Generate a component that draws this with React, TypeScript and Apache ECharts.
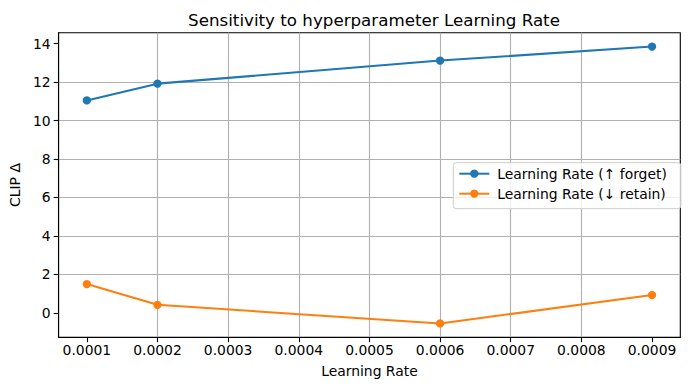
import React, { useEffect, useRef } from "react";
import * as echarts from "echarts";

const learningRates = [0.0001, 0.0002, 0.0006, 0.0009];
const forgetValues = [11.05, 11.92, 13.12, 13.85];
const retainValues = [1.5, 0.42, -0.55, 0.93];
const xTicks = [0.0001, 0.0002, 0.0003, 0.0004, 0.0005, 0.0006, 0.0007, 0.0008, 0.0009];
const yTicks = [0, 2, 4, 6, 8, 10, 12, 14];
const seriesNames = ["Learning Rate (↑ forget)", "Learning Rate (↓ retain)"];

const FONT = "DejaVu Sans";

export default function App() {
  const ref = useRef<HTMLDivElement>(null);
  useEffect(() => {
    if (!ref.current) return;
    const chart = echarts.init(ref.current, undefined, { renderer: "svg" });
    const xMinD = Math.min(...learningRates);
    const xMaxD = Math.max(...learningRates);
    const xPad = (xMaxD - xMinD) * 0.05;
    const allY = [...forgetValues, ...retainValues];
    const yMinD = Math.min(...allY);
    const yMaxD = Math.max(...allY);
    const yPad = (yMaxD - yMinD) * 0.05;

    const axisCommon = {
      axisLine: { show: true, onZero: false, lineStyle: { color: "#000", width: 1.1 } },
      axisTick: { show: true, length: 4.9, lineStyle: { color: "#000", width: 1.1 } },
      splitLine: { show: true, showMinLine: false, showMaxLine: false, lineStyle: { color: "#b0b0b0", width: 1.1 } },
    };

    chart.setOption({
      animation: false,
      backgroundColor: "#fff",
      title: {
        text: "Sensitivity to hyperparameter Learning Rate",
        left: 369,
        top: 6,
        textAlign: "center",
        textStyle: { fontFamily: FONT, fontSize: 16.7, fontWeight: "normal", color: "#000" },
      },
      grid: {
        left: 57.7,
        top: 32.7,
        right: 9.7,
        bottom: 52.7,
        show: true,
        borderColor: "#000",
        borderWidth: 1.1,
        backgroundColor: "transparent",
      },
      legend: {
        orient: "vertical",
        left: 453.3,
        top: 162.7,
        itemWidth: 30,
        itemHeight: 10.4,
        itemGap: 4,
        padding: [3, 14, 7, 5],
        backgroundColor: "rgba(255,255,255,0.8)",
        borderColor: "#cccccc",
        borderWidth: 1,
        borderRadius: 3,
        textStyle: { fontFamily: FONT, fontSize: 13.9, lineHeight: 16, color: "#000", padding: [0, 0, 0, 3] },
        data: seriesNames,
      },
      xAxis: {
        type: "value",
        min: xMinD - xPad,
        max: xMaxD + xPad,
        name: "Learning Rate",
        nameLocation: "middle",
        nameGap: 27,
        nameTextStyle: { fontFamily: FONT, fontSize: 13.9, color: "#000" },
        ...axisCommon,
        axisTick: { ...axisCommon.axisTick, customValues: xTicks },
        axisLabel: {
          customValues: xTicks,
          margin: 6,
          fontFamily: FONT,
          fontSize: 13.9,
          color: "#000",
          formatter: (v: number) => v.toFixed(4),
        },
      },
      yAxis: {
        type: "value",
        min: yMinD - yPad,
        max: yMaxD + yPad,
        name: "CLIP Δ",
        nameLocation: "middle",
        nameGap: 33,
        nameRotate: 90,
        nameTextStyle: { fontFamily: FONT, fontSize: 13.9, color: "#000" },
        ...axisCommon,
        axisTick: { ...axisCommon.axisTick, customValues: yTicks },
        axisLabel: {
          customValues: yTicks,
          margin: 8,
          fontFamily: FONT,
          fontSize: 13.9,
          color: "#000",
          formatter: (v: number) => String(Math.round(v)),
        },
      },
      series: [
        {
          name: seriesNames[0],
          type: "line",
          data: learningRates.map((x, i) => [x, forgetValues[i]]),
          symbol: "circle",
          symbolSize: 8.3,
          color: "#1f77b4",
          lineStyle: { width: 2.08, color: "#1f77b4" },
          itemStyle: { color: "#1f77b4" },
          z: 3,
        },
        {
          name: seriesNames[1],
          type: "line",
          data: learningRates.map((x, i) => [x, retainValues[i]]),
          symbol: "circle",
          symbolSize: 8.3,
          color: "#ff7f0e",
          lineStyle: { width: 2.08, color: "#ff7f0e" },
          itemStyle: { color: "#ff7f0e" },
          z: 3,
        },
      ],
    });
    return () => chart.dispose();
  }, []);
  return (
    <div
      ref={ref}
      style={{ position: "fixed", left: 0, top: 0, width: 690, height: 390 }}
    />
  );
}
